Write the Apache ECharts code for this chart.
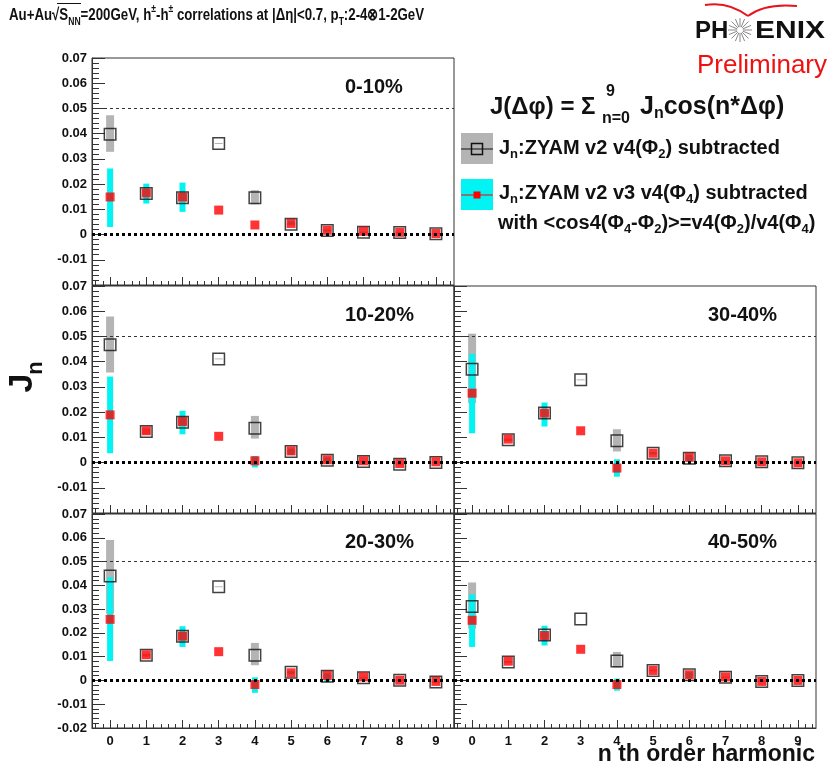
<!DOCTYPE html>
<html>
<head>
<meta charset="utf-8">
<title>Jn harmonics</title>
<script src="https://cdn.jsdelivr.net/npm/echarts@6/dist/echarts.min.js"></script>
<style>
html, body { margin: 0; padding: 0; background: #fff; }
#main { width: 834px; height: 772px; }
</style>
</head>
<body>
<div id="main"></div>
<script>
// n th order harmonic
const harmonics = ['0', '1', '2', '3', '4', '5', '6', '7', '8', '9'];

// Jn : ZYAM v2 v4(Phi2) subtracted (open squares, grey bands)
// Jn : ZYAM v2 v3 v4(Phi4) subtracted (red squares, cyan bands)

// 0-10%
const sq_0_10   = [0.0398, 0.0163, 0.0146, 0.0361, 0.0146, 0.0041, 0.0016, 0.0009, 0.0008, 0.0003];
const sqLo_0_10 = [0.0328, 0.0150, 0.0128, 0.0359, 0.0120, 0.0037, 0.0012, 0.0006, 0.0005, 0.0000];
const sqHi_0_10 = [0.0473, 0.0178, 0.0165, 0.0363, 0.0176, 0.0046, 0.0020, 0.0012, 0.0011, 0.0006];
const rd_0_10   = [0.0149, 0.0165, 0.0149, 0.0097, 0.0038, 0.0044, 0.0017, 0.0013, 0.0009, 0.0004];
const rdLo_0_10 = [0.0030, 0.0123, 0.0090, 0.0097, 0.0038, 0.0040, 0.0015, 0.0013, 0.0009, 0.0004];
const rdHi_0_10 = [0.0262, 0.0202, 0.0206, 0.0097, 0.0038, 0.0052, 0.0020, 0.0013, 0.0009, 0.0004];

// 10-20%
const sq_10_20   = [0.0467, 0.0123, 0.0160, 0.0411, 0.0136, 0.0044, 0.0009, 0.0004, -0.0007, 0.0000];
const sqLo_10_20 = [0.0357, 0.0112, 0.0142, 0.0409, 0.0095, 0.0040, 0.0005, 0.0001, -0.0010, -0.0003];
const sqHi_10_20 = [0.0579, 0.0134, 0.0178, 0.0413, 0.0185, 0.0048, 0.0013, 0.0007, -0.0004, 0.0003];
const rd_10_20   = [0.0189, 0.0126, 0.0163, 0.0104, 0.0007, 0.0046, 0.0011, 0.0007, -0.0004, 0.0003];
const rdLo_10_20 = [0.0037, 0.0126, 0.0112, 0.0104, -0.0019, 0.0030, 0.0005, 0.0007, -0.0004, 0.0003];
const rdHi_10_20 = [0.0341, 0.0126, 0.0205, 0.0104, 0.0026, 0.0055, 0.0020, 0.0007, -0.0004, 0.0003];

// 20-30%
const sq_20_30   = [0.0439, 0.0106, 0.0186, 0.0394, 0.0106, 0.0034, 0.0018, 0.0011, 0.0001, -0.0007];
const sqLo_20_30 = [0.0281, 0.0100, 0.0170, 0.0392, 0.0064, 0.0030, 0.0014, 0.0008, -0.0002, -0.0010];
const sqHi_20_30 = [0.0591, 0.0112, 0.0202, 0.0396, 0.0158, 0.0038, 0.0022, 0.0014, 0.0004, -0.0004];
const rd_20_30   = [0.0257, 0.0108, 0.0186, 0.0121, -0.0017, 0.0032, 0.0021, 0.0015, 0.0001, -0.0004];
const rdLo_20_30 = [0.0082, 0.0108, 0.0141, 0.0121, -0.0052, 0.0026, -0.0005, 0.0015, 0.0001, -0.0004];
const rdHi_20_30 = [0.0434, 0.0108, 0.0228, 0.0121, 0.0013, 0.0038, 0.0030, 0.0015, 0.0001, -0.0004];

// 30-40%
const sq_30_40   = [0.0370, 0.0090, 0.0196, 0.0328, 0.0086, 0.0037, 0.0017, 0.0007, 0.0003, -0.0001];
const sqLo_30_40 = [0.0235, 0.0085, 0.0185, 0.0326, 0.0044, 0.0033, 0.0013, 0.0004, 0.0000, -0.0004];
const sqHi_30_40 = [0.0511, 0.0095, 0.0207, 0.0330, 0.0132, 0.0041, 0.0021, 0.0010, 0.0006, 0.0002];
const rd_30_40   = [0.0275, 0.0093, 0.0196, 0.0126, -0.0022, 0.0037, 0.0021, 0.0007, 0.0003, -0.0001];
const rdLo_30_40 = [0.0116, 0.0093, 0.0143, 0.0126, -0.0056, 0.0033, 0.0003, 0.0007, 0.0003, -0.0001];
const rdHi_30_40 = [0.0431, 0.0093, 0.0238, 0.0126, 0.0013, 0.0041, 0.0030, 0.0007, 0.0003, -0.0001];

// 40-50%
const sq_40_50   = [0.0311, 0.0078, 0.0191, 0.0258, 0.0082, 0.0042, 0.0024, 0.0013, -0.0004, 0.0000];
const sqLo_40_50 = [0.0218, 0.0074, 0.0180, 0.0258, 0.0054, 0.0038, 0.0020, 0.0010, -0.0007, -0.0003];
const sqHi_40_50 = [0.0412, 0.0082, 0.0202, 0.0258, 0.0120, 0.0046, 0.0028, 0.0016, -0.0001, 0.0003];
const rd_40_50   = [0.0253, 0.0081, 0.0189, 0.0131, -0.0017, 0.0042, 0.0024, 0.0015, -0.0004, 0.0000];
const rdLo_40_50 = [0.0141, 0.0081, 0.0147, 0.0131, -0.0043, 0.0042, 0.0010, 0.0015, -0.0004, 0.0000];
const rdHi_40_50 = [0.0362, 0.0081, 0.0230, 0.0131, 0.0008, 0.0042, 0.0035, 0.0015, -0.0004, 0.0000];

const FONT = "'Liberation Sans', Arial, sans-serif";
const INK = '#111';

const panels = [
  { label: '0-10%',  box: [92, 58, 362, 227],  yLab: true,  xLab: false, sq: sq_0_10,  sqLo: sqLo_0_10,  sqHi: sqHi_0_10,  rd: rd_0_10,  rdLo: rdLo_0_10,  rdHi: rdHi_0_10 },
  { label: '10-20%', box: [92, 286, 362, 227], yLab: true,  xLab: false, sq: sq_10_20, sqLo: sqLo_10_20, sqHi: sqHi_10_20, rd: rd_10_20, rdLo: rdLo_10_20, rdHi: rdHi_10_20 },
  { label: '20-30%', box: [92, 514, 362, 214], yLab: true,  xLab: true,  sq: sq_20_30, sqLo: sqLo_20_30, sqHi: sqHi_20_30, rd: rd_20_30, rdLo: rdLo_20_30, rdHi: rdHi_20_30 },
  { label: '30-40%', box: [454, 286, 362, 227], yLab: false, xLab: false, sq: sq_30_40, sqLo: sqLo_30_40, sqHi: sqHi_30_40, rd: rd_30_40, rdLo: rdLo_30_40, rdHi: rdHi_30_40 },
  { label: '40-50%', box: [454, 514, 362, 214], yLab: false, xLab: true,  sq: sq_40_50, sqLo: sqLo_40_50, sqHi: sqHi_40_50, rd: rd_40_50, rdLo: rdLo_40_50, rdHi: rdHi_40_50 }
];

// 50 slots -> minor ticks every 0.2 on the harmonic axis
const minorSlots = [];
for (let i = 0; i < 50; i++) minorSlots.push(String(i));

// vertical error band drawn through the axes
function band(color, w) {
  return function (params, api) {
    const x = api.value(0);
    const top = api.coord([x, api.value(2)]);
    const bot = api.coord([x, api.value(1)]);
    const h = bot[1] - top[1];
    if (h < 0.5) return null;
    return {
      type: 'rect',
      shape: { x: top[0] - w / 2, y: top[1], width: w, height: h },
      style: { fill: color }
    };
  };
}

const grids = [], xAxes = [], yAxes = [], series = [];
panels.forEach((p, i) => {
  grids.push({
    left: p.box[0], top: p.box[1], width: p.box[2], height: p.box[3],
    show: true, borderColor: '#333', borderWidth: 1, backgroundColor: 'transparent'
  });
  xAxes.push({
    type: 'category', gridIndex: i, data: harmonics, boundaryGap: true, position: 'bottom',
    axisLine: { show: true, onZero: false, lineStyle: { color: '#333', width: 1 } },
    axisTick: { show: true, inside: true, alignWithLabel: true, interval: 0, length: 8, lineStyle: { color: '#333' } },
    axisLabel: { show: p.xLab, interval: 0, margin: 7, color: INK, fontFamily: FONT, fontWeight: 'bold', fontSize: 13 },
    splitLine: { show: false }
  });
  xAxes.push({
    type: 'category', gridIndex: i, data: minorSlots, boundaryGap: true, position: 'bottom',
    axisLine: { show: false, onZero: false },
    axisTick: { show: true, inside: true, alignWithLabel: true, interval: 0, length: 4, lineStyle: { color: '#333' } },
    axisLabel: { show: false, interval: 0 },
    splitLine: { show: false }
  });
  yAxes.push({
    type: 'value', gridIndex: i, min: -0.02, max: 0.07, interval: 0.01,
    axisLine: { show: true, onZero: false, lineStyle: { color: '#333', width: 1 } },
    axisTick: { show: true, inside: true, length: 13, lineStyle: { color: '#333' } },
    minorTick: { show: true, splitNumber: 5, length: 7, lineStyle: { color: '#333' } },
    axisLabel: {
      show: p.yLab, margin: 5, color: INK, fontFamily: FONT, fontWeight: 'bold', fontSize: 13,
      showMinLabel: i === 2,
      formatter: v => String(+v.toFixed(2))
    },
    splitLine: { show: false }
  });

  const xi = i * 2;
  series.push({
    type: 'custom', xAxisIndex: xi, yAxisIndex: i, z: 1, clip: true,
    renderItem: band('#b4b4b4', 8),
    encode: { x: 0, y: [1, 2] },
    data: harmonics.map((h, k) => [k, p.sqLo[k], p.sqHi[k]]),
    markLine: {
      silent: true, symbol: ['none', 'none'], label: { show: false },
      data: [
        { yAxis: 0.05, lineStyle: { type: [3, 3], width: 1, color: '#333' } },
        { yAxis: 0, lineStyle: { type: [3, 3], width: 3, color: '#000' } }
      ]
    }
  });
  series.push({
    type: 'custom', xAxisIndex: xi, yAxisIndex: i, z: 2, clip: true,
    renderItem: band('#00f4f4', 6),
    encode: { x: 0, y: [1, 2] },
    data: harmonics.map((h, k) => [k, p.rdLo[k], p.rdHi[k]])
  });
  series.push({
    type: 'scatter', xAxisIndex: xi, yAxisIndex: i, z: 3,
    symbol: 'rect', symbolSize: 11.5,
    itemStyle: { color: 'rgba(0,0,0,0)', borderColor: '#111', borderWidth: 1.5 },
    data: harmonics.map((h, k) => [k, p.sq[k]])
  });
  series.push({
    type: 'scatter', xAxisIndex: xi, yAxisIndex: i, z: 4,
    symbol: 'rect', symbolSize: 9,
    itemStyle: { color: '#ff0000' },
    data: harmonics.map((h, k) => [k, p.rd[k]])
  });
});

const sub = s => ({ fontFamily: FONT, fontWeight: 'bold', fontSize: s, lineHeight: s, verticalAlign: 'bottom', fill: INK });
const sup = s => ({ fontFamily: FONT, fontWeight: 'bold', fontSize: s, lineHeight: s, verticalAlign: 'top', fill: INK });

function txt(x, y, text, size, extra) {
  extra = extra || {};
  return {
    type: 'text', x: x, y: y, z: 10,
    scaleX: extra.scaleX || 1, rotation: extra.rotation || 0,
    style: Object.assign({
      text: text, fontFamily: FONT, fontWeight: 'bold', fontSize: size, fill: INK,
      verticalAlign: 'middle', align: 'left'
    }, extra.style || {})
  };
}

// PHENIX star burst
const star = [];
for (let k = 0; k < 16; k++) {
  const a = k * Math.PI / 8;
  star.push({
    type: 'line', z: 10,
    shape: { x1: 740 + 3 * Math.cos(a), y1: 30 + 3 * Math.sin(a), x2: 740 + 12 * Math.cos(a), y2: 30 + 12 * Math.sin(a) },
    style: { stroke: '#888', lineWidth: 1 }
  });
}

const graphic = [
  // title
  txt(9, 15, 'Au+Au√{s|S}{sub|NN}=200GeV, h{sup|±}-h{sup|±} correlations at |Δη|<0.7, p{sub|T}:2-4⊗1-2GeV', 17, {
    scaleX: 0.78,
    style: { lineHeight: 24, rich: { s: { fontFamily: FONT, fontWeight: 'bold', fontSize: 17, fill: INK }, sub: sub(11), sup: sup(11) } }
  }),
  { type: 'line', z: 10, shape: { x1: 57, y1: 3.5, x2: 81, y2: 3.5 }, style: { stroke: INK, lineWidth: 1 } },

  // PHENIX logo
  { type: 'bezierCurve', z: 10, shape: { x1: 705, y1: 5, cpx1: 728, cpy1: 1, x2: 748, y2: 16 }, style: { stroke: '#e8151b', lineWidth: 2, fill: null } },
  { type: 'bezierCurve', z: 10, shape: { x1: 748, y1: 16, cpx1: 765, cpy1: 3, x2: 797, y2: 6 }, style: { stroke: '#e8151b', lineWidth: 2, fill: null } },
  txt(695, 31, 'PH', 24),
  txt(755, 31, 'ENIX', 24, { scaleX: 1.25 }),
  txt(697, 66, 'Preliminary', 26, { style: { fill: '#ee1111', fontWeight: 'normal' } }),

  // legend formula
  txt(490, 107, 'J(Δφ) = Σ', 24),
  txt(606, 92, '9', 16),
  txt(602, 119, 'n=0', 16),
  txt(640, 107, 'J{sub|n}cos(n*Δφ)', 25, { style: { lineHeight: 30, rich: { sub: sub(16) } } }),

  // legend entries
  { type: 'rect', z: 10, shape: { x: 461, y: 133, width: 32, height: 31 }, style: { fill: '#b4b4b4' } },
  { type: 'line', z: 11, shape: { x1: 461, y1: 149, x2: 493, y2: 149 }, style: { stroke: '#111', lineWidth: 1 } },
  { type: 'rect', z: 12, shape: { x: 471.5, y: 143.5, width: 11, height: 11 }, style: { fill: null, stroke: '#111', lineWidth: 1.5 } },
  txt(499, 148, 'J{sub|n}:ZYAM v2 v4(Φ{sub|2}) subtracted', 20, { style: { lineHeight: 25, rich: { sub: sub(13) } } }),
  { type: 'rect', z: 10, shape: { x: 461, y: 179, width: 32, height: 31 }, style: { fill: '#00f4f4' } },
  { type: 'line', z: 11, shape: { x1: 461, y1: 195, x2: 493, y2: 195 }, style: { stroke: '#ff0000', lineWidth: 1 } },
  { type: 'rect', z: 12, shape: { x: 473.5, y: 191.5, width: 7, height: 7 }, style: { fill: '#ff0000' } },
  txt(499, 193, 'J{sub|n}:ZYAM v2 v3 v4(Φ{sub|4}) subtracted', 20, { style: { lineHeight: 25, rich: { sub: sub(13) } } }),
  txt(498, 223, 'with <cos4(Φ{sub|4}-Φ{sub|2})>=v4(Φ{sub|2})/v4(Φ{sub|4})', 20, { style: { lineHeight: 25, rich: { sub: sub(13) } } }),

  // axis titles
  txt(23, 383, 'J', 34, { rotation: Math.PI / 2, style: { align: 'center' } }),
  txt(36, 368, 'n', 22, { rotation: Math.PI / 2, style: { align: 'center' } }),
  txt(815, 755, 'n th order harmonic', 23, { style: { align: 'right' } })
].concat(star);

// centrality labels
const labelPos = [[345, 87], [345, 315], [345, 542], [708, 315], [708, 542]];
panels.forEach((p, i) => graphic.push(txt(labelPos[i][0], labelPos[i][1], p.label, 20)));

const chart = echarts.init(document.getElementById('main'), null, { renderer: 'canvas' });
chart.setOption({
  animation: false,
  backgroundColor: '#fff',
  grid: grids,
  xAxis: xAxes,
  yAxis: yAxes,
  series: series,
  graphic: graphic
});
</script>
</body>
</html>
